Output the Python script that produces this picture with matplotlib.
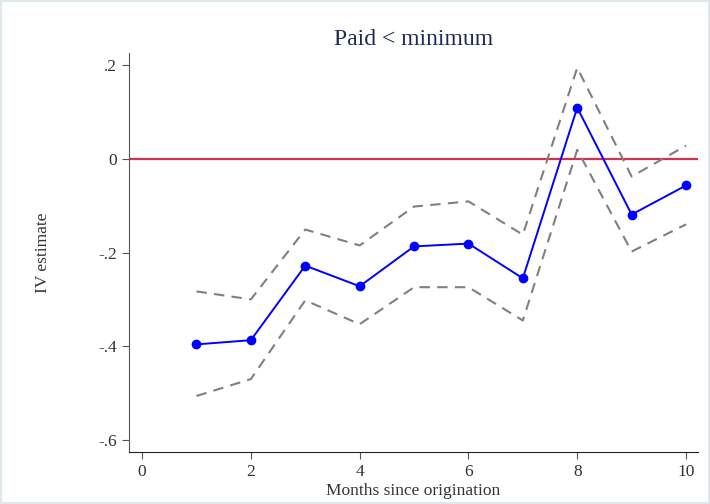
import matplotlib.pyplot as plt
import matplotlib.patches as mpatches

months = [1, 2, 3, 4, 5, 6, 7, 8, 9, 10]
estimate = [-0.396, -0.387, -0.228, -0.272, -0.187, -0.181, -0.255, 0.109, -0.119, -0.057]
upper = [-0.283, -0.300, -0.151, -0.185, -0.102, -0.091, -0.162, 0.194, -0.038, 0.028]
lower = [-0.506, -0.470, -0.302, -0.353, -0.274, -0.274, -0.345, 0.019, -0.198, -0.140]
xticks = [0, 2, 4, 6, 8, 10]
yticks = [0.2, 0, -0.2, -0.4, -0.6]
ylabels = ['.2', '0', '-.2', '-.4', '-.6']

plt.rcParams['font.family'] = ['Liberation Serif', 'DejaVu Serif']

fig = plt.figure(figsize=(7.1, 5.04), dpi=100)
fig.patches.append(mpatches.Rectangle((0.002, 0.002), 0.996, 0.996, transform=fig.transFigure,
                                      fill=False, edgecolor='#dfe8ec', linewidth=1.5))
ax = fig.add_axes([129 / 710, 1 - 452 / 504, (698 - 129) / 710, (452 - 53) / 504])

ax.axhline(0, color='#d7304f', linewidth=1.6, zorder=1)
ax.plot(months, upper, color='#808080', linestyle=(0, (5, 3.5)), linewidth=1.5)
ax.plot(months, lower, color='#808080', linestyle=(0, (5, 3.5)), linewidth=1.5)
ax.plot(months, estimate, color='#0000ff', linewidth=1.4, marker='o', markersize=6)

ax.set_xlim(-0.24, 10.22)
ax.set_ylim(-0.6255, 0.2255)
ax.set_xticks(xticks)
ax.set_yticks(yticks)
ax.set_yticklabels(ylabels)
ax.spines['top'].set_visible(False)
ax.spines['right'].set_visible(False)
ax.spines['left'].set_color('#555555')
ax.spines['bottom'].set_color('#222222')
ax.tick_params(axis='both', direction='out', length=5, color='#555555',
               labelsize=12.5, labelcolor='#333333')
ax.tick_params(axis='x', pad=4)

ax.set_title('Paid < minimum', fontsize=17, color='#1e2a4f', pad=6)
ax.set_xlabel('Months since origination', fontsize=12.5, color='#333333', labelpad=2)
ax.set_ylabel('IV estimate', fontsize=12.5, color='#333333', labelpad=34)

fig.savefig('out.png', dpi=100)
